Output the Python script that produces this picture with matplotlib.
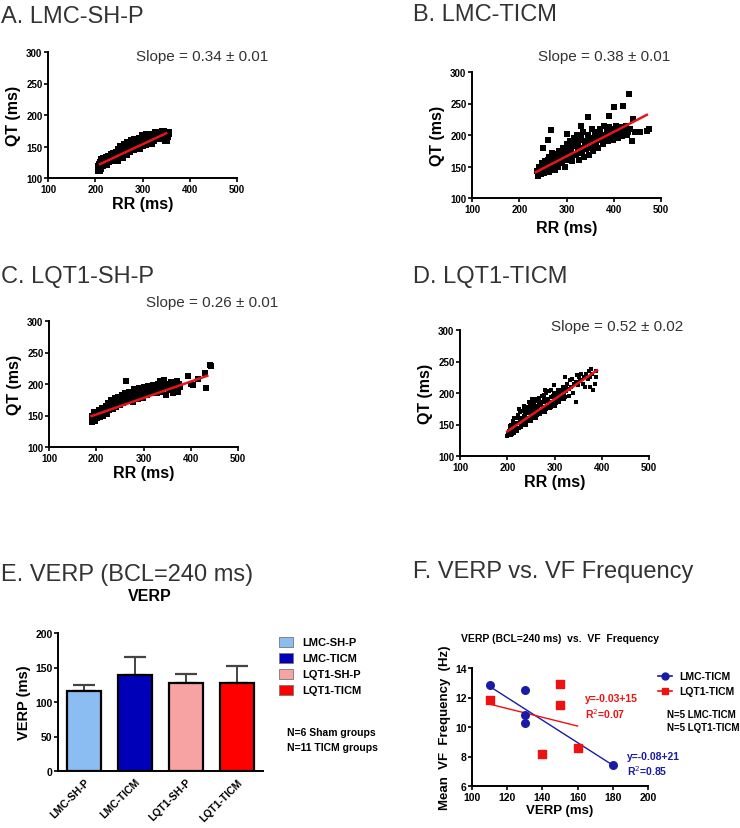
import matplotlib
matplotlib.use("Agg")
import matplotlib.pyplot as plt
import numpy as np

plt.rcParams['font.family'] = ['Liberation Sans', 'DejaVu Sans']

# =============================================================================
# DATA
# =============================================================================

# A. LMC-SH-P  (RR, QT) in ms
a_rr = [207, 208, 210, 212, 214, 215, 218, 220, 222, 225, 228, 230, 232, 235, 238, 240, 242, 245, 247, 250,
        252, 255, 257, 258, 260, 262, 265, 267, 270, 272, 275, 277, 280, 282, 285, 287, 290, 292, 295, 298,
        300, 302, 305, 308, 310, 312, 315, 318, 320, 322, 325, 328, 330, 333, 336, 340, 343, 345, 348, 350,
        352, 353, 210, 226, 244, 262, 280, 298, 316, 334]
a_qt = [113, 118, 116, 124, 128, 120, 130, 125, 122, 131, 127, 134, 128, 136, 130, 138, 133, 140, 129, 144,
        137, 150, 134, 146, 141, 152, 138, 147, 155, 143, 150, 158, 146, 154, 160, 150, 156, 147, 162, 152,
        158, 166, 154, 163, 168, 158, 165, 156, 169, 161, 166, 172, 163, 170, 166, 168, 173, 164, 170, 160,
        167, 172, 121, 127, 135, 142, 148, 155, 161, 167]
a_fit_x = [210, 350]
a_fit_y = [122, 171]

# B. LMC-TICM
b_rr = [238, 240, 242, 245, 248, 250, 252, 255, 258, 260, 262, 265, 267, 270, 272, 275, 277, 280, 282, 285,
        287, 290, 292, 295, 297, 300, 302, 305, 307, 310, 312, 315, 317, 320, 322, 325, 327, 330, 332, 335,
        337, 340, 342, 345, 347, 350, 352, 355, 357, 360, 362, 365, 367, 370, 372, 375, 377, 380, 382, 385,
        388, 390, 393, 395, 398, 400, 403, 405, 408, 410, 413, 415, 418, 420, 425, 428, 435, 445,
        245, 255, 265, 275, 285, 295, 305, 315, 325, 335, 345, 255, 280, 300, 320,
        262, 272, 283, 293, 303, 313, 323, 333, 343, 353, 363, 373, 290, 310, 330, 350, 270, 340, 360, 380,
        250, 268, 260, 300, 330, 345, 390, 400, 420, 432, 440, 455, 475, 470, 438, 430]
b_qt = [143, 135, 150, 138, 155, 145, 140, 152, 147, 160, 142, 155, 165, 150, 160, 145, 170, 158, 150, 175,
        163, 155, 180, 168, 150, 185, 172, 160, 190, 177, 158, 195, 182, 168, 200, 185, 160, 192, 175, 205,
        165, 190, 178, 200, 168, 195, 183, 210, 175, 198, 188, 205, 180, 210, 192, 200, 185, 215, 195, 205,
        190, 212, 198, 205, 192, 210, 200, 215, 195, 205, 200, 212, 198, 208, 215, 200, 210, 205,
        148, 145, 148, 160, 165, 160, 170, 170, 175, 180, 185, 158, 168, 178, 190,
        165, 155, 170, 162, 178, 168, 182, 172, 190, 180, 192, 196, 170, 185, 198, 188, 172, 182, 203, 200,
        180, 208, 192, 202, 215, 228, 230, 245, 246, 265, 225, 205, 210, 207, 191, 205]
b_fit_x = [235, 470]
b_fit_y = [141, 232]

# C. LQT1-SH-P
c_rr = [190, 191, 193, 195, 197, 200, 202, 205, 207, 210, 212, 215, 218, 220, 222, 225, 227, 230, 232, 235,
        237, 240, 242, 245, 247, 250, 252, 255, 257, 260, 262, 263, 265, 268, 270, 272, 275, 278, 280, 282,
        285, 288, 290, 292, 295, 298, 300, 302, 305, 308, 310, 312, 315, 318, 320, 323, 325, 328, 330, 333,
        335, 338, 340, 343, 345, 348, 350, 353, 355, 358, 360, 363, 365, 368, 370, 373, 375, 378, 395, 400,
        405, 415, 430, 432, 440, 442]
c_qt = [140, 150, 145, 155, 142, 150, 146, 158, 148, 155, 162, 150, 160, 165, 153, 170, 158, 167, 175, 160,
        170, 178, 163, 173, 180, 167, 176, 182, 170, 185, 173, 205, 180, 175, 188, 178, 184, 172, 192, 180,
        188, 176, 194, 183, 190, 178, 195, 185, 192, 182, 197, 188, 193, 185, 198, 190, 194, 186, 200, 192,
        204, 188, 198, 207, 193, 183, 200, 195, 190, 203, 196, 185, 200, 192, 205, 188, 200, 195, 213, 200,
        198, 208, 217, 193, 230, 228]
c_fit_x = [190, 435]
c_fit_y = [149, 213]

# D. LQT1-TICM
d_rr = [200, 202, 204, 205, 207, 208, 210, 212, 213, 215, 217, 218, 220, 222, 223, 225, 227, 228, 230, 232,
        233, 235, 237, 238, 240, 242, 243, 245, 247, 248, 250, 252, 253, 255, 257, 258, 260, 262, 263, 265,
        267, 268, 270, 272, 273, 275, 277, 278, 280, 282, 283, 285, 287, 288, 290, 292, 293, 295, 297, 298,
        300, 302, 305, 307, 310, 312, 315, 317, 320, 322, 325, 327, 330, 332, 335, 337, 340, 342, 345, 347,
        350, 352, 355, 357, 360, 362, 365, 367, 370, 372, 375, 378, 380, 382, 385, 387, 388, 345, 375, 235,
        225, 215, 260, 250, 280, 245, 255, 265, 270, 240, 250, 260, 275, 285, 230, 290, 300, 310,
        205, 210, 215, 220, 225, 230, 235, 240, 245, 250, 255, 260, 265, 270, 275, 280, 285, 290, 295, 300,
        305, 310, 315, 320, 325, 330, 228, 233, 238, 243, 248, 253, 258, 263, 268, 273, 278, 283, 288, 293,
        298, 303, 308, 313, 318, 323, 246, 252, 242, 256, 236]
d_qt = [131, 136, 140, 145, 133, 150, 138, 143, 155, 136, 148, 160, 141, 152, 165, 145, 157, 170, 148, 160,
        172, 152, 165, 175, 155, 168, 178, 158, 170, 182, 160, 173, 185, 163, 176, 188, 166, 178, 190, 168,
        181, 192, 171, 183, 195, 173, 186, 197, 176, 188, 200, 178, 191, 203, 181, 193, 205, 184, 196, 212,
        187, 199, 190, 202, 193, 205, 196, 208, 199, 225, 203, 215, 206, 220, 210, 223, 200, 215, 218, 228,
        212, 225, 220, 230, 215, 226, 210, 230, 222, 235, 226, 238, 230, 205, 215, 235, 225, 185, 210, 180,
        175, 160, 190, 180, 205, 170, 175, 180, 185, 160, 168, 172, 178, 190, 155, 185, 195, 200,
        147, 135, 152, 140, 160, 146, 163, 150, 170, 155, 176, 160, 180, 166, 185, 170, 190, 176, 194, 180,
        198, 186, 203, 190, 208, 196, 158, 150, 168, 155, 175, 160, 172, 165, 185, 170, 192, 174, 186, 178,
        200, 184, 204, 190, 210, 194, 185, 190, 176, 182, 178]
d_fit_x = [200, 390]
d_fit_y = [139, 236]

# E. VERP bars
e_groups = ['LMC-SH-P', 'LMC-TICM', 'LQT1-SH-P', 'LQT1-TICM']
e_means = [116, 139, 127, 128]
e_err = [8, 26, 13, 24]
e_colors = ['#8bbcf2', '#0000b8', '#f7a3a3', '#ff0000']

# F. VERP vs VF frequency
f_lmc_verp = [110, 130, 130, 130, 180]
f_lmc_freq = [12.85, 12.5, 10.8, 10.25, 7.45]
f_lqt_verp = [110, 150, 150, 140, 160]
f_lqt_freq = [11.8, 12.9, 11.5, 8.2, 8.6]

# =============================================================================
# PLOTTING
# =============================================================================

W, H = 740, 829
fig = plt.figure(figsize=(7.4, 8.29), dpi=100)


def px_axes(x0, y0, x1, y1):
    return fig.add_axes([x0 / W, 1 - y1 / H, (x1 - x0) / W, (y1 - y0) / H])


def px_text(x, y, s, **kw):
    fig.text(x / W, 1 - y / H, s, **kw)


def style_axes(ax, ticksize=7):
    for side in ['top', 'right']:
        ax.spines[side].set_visible(False)
    for side in ['left', 'bottom']:
        ax.spines[side].set_linewidth(1.4)
    ax.tick_params(width=1.2, length=3, labelsize=ticksize, pad=1)
    for lab in ax.get_xticklabels() + ax.get_yticklabels():
        lab.set_fontweight('bold')


def scatter_panel(box, rr, qt, fx, fy, msize, slope_txt, slope_xy, rr_label_y):
    ax = px_axes(*box)
    ax.scatter(rr, qt, marker='s', s=msize, color='black', linewidths=0, zorder=2)
    ax.plot(fx, fy, color='#e8141c', lw=1.8, zorder=3)
    ax.set_xlim(100, 500)
    ax.set_ylim(100, 300)
    ax.set_xticks([100, 200, 300, 400, 500])
    ax.set_yticks([100, 150, 200, 250, 300])
    style_axes(ax)
    ax.set_ylabel('QT (ms)', fontsize=11.5, fontweight='bold', labelpad=4)
    px_text((box[0] + box[2]) / 2, rr_label_y, 'RR (ms)', fontsize=11.5, fontweight='bold',
            ha='center', va='center')
    px_text(slope_xy[0], slope_xy[1], slope_txt, fontsize=11, color='#333333', ha='center', va='center')
    return ax


title_kw = dict(fontsize=17, color='#333333', va='center', ha='left')

# A
px_text(1, 17, 'A. LMC-SH-P', **title_kw)
scatter_panel((48, 53, 237, 179), a_rr, a_qt, a_fit_x, a_fit_y, 28,
              'Slope = 0.34 ± 0.01', (202, 57), 205)

# B
px_text(413, 15, 'B. LMC-TICM', **title_kw)
scatter_panel((472, 73, 661, 199), b_rr, b_qt, b_fit_x, b_fit_y, 20,
              'Slope = 0.38 ± 0.01', (604, 57), 228)

# C
px_text(1, 277, 'C. LQT1-SH-P', **title_kw)
scatter_panel((49, 322, 238, 448), c_rr, c_qt, c_fit_x, c_fit_y, 18,
              'Slope = 0.26 ± 0.01', (212, 303), 474)

# D
px_text(413, 277, 'D. LQT1-TICM', **title_kw)
scatter_panel((460, 331, 649, 457), d_rr, d_qt, d_fit_x, d_fit_y, 7,
              'Slope = 0.52 ± 0.02', (617, 327), 483)

# E. bar chart
px_text(1, 575, 'E. VERP (BCL=240 ms)', **title_kw)
px_text(150, 597, 'VERP', fontsize=11.5, fontweight='bold', ha='center', va='center')
axe = px_axes(58, 634, 263, 772)
pos = np.arange(len(e_groups))
axe.bar(pos, e_means, width=0.68, color=e_colors, edgecolor='black', linewidth=1.6, zorder=2)
axe.errorbar(pos, e_means, yerr=[np.zeros(len(e_err)), e_err], fmt='none', ecolor='#444444',
             elinewidth=1.4, capsize=8, capthick=1.6, zorder=1)
axe.set_xlim(-0.51, 3.51)
axe.set_ylim(0, 200)
axe.set_yticks([0, 50, 100, 150, 200])
axe.set_xticks(pos)
axe.set_xticklabels(e_groups, rotation=45, ha='right', rotation_mode='anchor')
style_axes(axe, ticksize=7.5)
axe.tick_params(axis='x', length=0, pad=4)
axe.set_ylabel('VERP (ms)', fontsize=10.5, fontweight='bold', labelpad=3)

legend_rows = [643, 659, 675, 691]
for name, col, ry in zip(e_groups, e_colors, legend_rows):
    fig.patches.append(plt.Rectangle((279 / W, 1 - (ry + 5) / H), 14 / W, 10 / H,
                                     transform=fig.transFigure, facecolor=col,
                                     edgecolor='#777777', linewidth=0.6))
    px_text(302, ry, name, fontsize=8, fontweight='bold', va='center')
px_text(287, 733, 'N=6 Sham groups', fontsize=7.5, fontweight='bold', va='center')
px_text(287, 748, 'N=11 TICM groups', fontsize=7.5, fontweight='bold', va='center')

# F. VERP vs VF frequency
px_text(413, 572, 'F. VERP vs. VF Frequency', **title_kw)
px_text(560, 639, 'VERP (BCL=240 ms)  vs.  VF  Frequency', fontsize=7.5, fontweight='bold',
        ha='center', va='center')
axf = px_axes(472, 669, 648, 787)
axf.scatter(f_lmc_verp, f_lmc_freq, marker='o', s=30, color='#1a1aa6', zorder=3)
axf.scatter(f_lqt_verp, f_lqt_freq, marker='s', s=32, color='#ee1111', zorder=3)
for xs, ys, col in [(f_lmc_verp, f_lmc_freq, '#1a1aa6'), (f_lqt_verp, f_lqt_freq, '#ee1111')]:
    k, b = np.polyfit(xs, ys, 1)
    xl = np.array([min(xs), max(xs)])
    axf.plot(xl, k * xl + b, color=col, lw=1.0, zorder=2)
axf.set_xlim(100, 200)
axf.set_ylim(6, 14)
axf.set_xticks([100, 120, 140, 160, 180, 200])
axf.set_yticks([6, 8, 10, 12, 14])
style_axes(axf, ticksize=7.5)
axf.set_xlabel('VERP (ms)', fontsize=9.5, fontweight='bold', labelpad=2)
axf.set_ylabel('Mean  VF  Frequency  (Hz)', fontsize=9.5, fontweight='bold', labelpad=3)
axf.text(164, 11.97, 'y=-0.03+15', color='#ee1111', fontsize=7.5, fontweight='bold', va='center')
axf.text(164, 10.95, 'R$^2$=0.07', color='#ee1111', fontsize=7.5, fontweight='bold', va='center')
axf.text(188, 8.03, 'y=-0.08+21', color='#1a1aa6', fontsize=7.5, fontweight='bold', va='center')
axf.text(188, 7.1, 'R$^2$=0.85', color='#1a1aa6', fontsize=7.5, fontweight='bold', va='center')

# F legend drawn by hand in figure pixels
for ry, col, mk, name in [(677, '#1a1aa6', 'o', 'LMC-TICM'), (692, '#ee1111', 's', 'LQT1-TICM')]:
    fig.add_artist(plt.Line2D([658 / W, 672 / W], [1 - ry / H, 1 - ry / H], color=col, lw=1.2,
                              transform=fig.transFigure))
    fig.add_artist(plt.Line2D([665 / W], [1 - ry / H], color=col, marker=mk, markersize=5,
                              linestyle='none', transform=fig.transFigure))
    px_text(679, ry, name, fontsize=7.5, fontweight='bold', va='center')
px_text(667, 715, 'N=5 LMC-TICM', fontsize=7, fontweight='bold', va='center')
px_text(667, 728, 'N=5 LQT1-TICM', fontsize=7, fontweight='bold', va='center')

fig.savefig('out.png', dpi=100)
